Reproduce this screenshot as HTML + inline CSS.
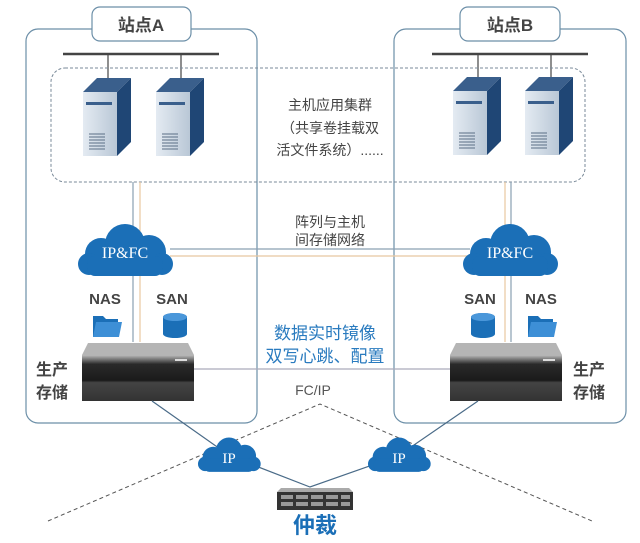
<!DOCTYPE html>
<html><head><meta charset="utf-8"><style>
html,body{margin:0;padding:0;background:#fff;}
svg{display:block;font-family:"Liberation Sans","Noto Sans CJK SC",sans-serif;}
</style></head><body>
<svg width="640" height="543" viewBox="0 0 640 543" xmlns="http://www.w3.org/2000/svg">
<defs>
<linearGradient id="srvF" x1="0" x2="1"><stop offset="0" stop-color="#e4ebf2"/><stop offset="1" stop-color="#b9c7d6"/></linearGradient>
<linearGradient id="arr" x1="0" y1="0" x2="0" y2="1"><stop offset="0" stop-color="#bcbcbc"/><stop offset="0.2" stop-color="#2a2a2a"/><stop offset="0.55" stop-color="#1a1a1a"/><stop offset="0.6" stop-color="#444"/><stop offset="1" stop-color="#333"/></linearGradient>
<g id="server">
<polygon points="0,14 14,0 48,0 34,14" fill="#3a5f8c"/>
<rect x="0" y="14" width="34" height="64" fill="url(#srvF)"/>
<polygon points="34,14 48,0 48,64 34,78" fill="#1f4675"/>
<rect x="3" y="24" width="26" height="3" fill="#3a5f8c"/>
<g stroke="#5a6e85" stroke-width="1"><line x1="6" y1="56" x2="22" y2="56"/><line x1="6" y1="59" x2="22" y2="59"/><line x1="6" y1="62" x2="22" y2="62"/><line x1="6" y1="65" x2="22" y2="65"/><line x1="6" y1="68" x2="22" y2="68"/><line x1="6" y1="71" x2="22" y2="71"/></g>
</g>
<g id="array">
<polygon points="0,12 6,0 106,0 112,12" fill="#b5b5b5"/>
<rect x="0" y="12" width="112" height="46" fill="url(#arr)"/>
<rect x="93" y="16" width="12" height="2" fill="#ddd"/>
</g>
<g id="cloud" fill="#1b6fb7">
<circle cx="-24" cy="2" r="16"/><circle cx="0" cy="-8" r="20"/><circle cx="24" cy="0" r="17"/>
<circle cx="-36" cy="12" r="11"/><circle cx="37" cy="12" r="11"/>
<rect x="-38" y="4" width="76" height="20" rx="8"/>
</g>
</defs>

<rect x="26" y="29" width="231" height="394" rx="12" fill="none" stroke="#6c8fa8" stroke-width="1.2"/>
<rect x="394" y="29" width="232" height="394" rx="12" fill="none" stroke="#6c8fa8" stroke-width="1.2"/>
<rect x="92" y="7" width="99" height="34" rx="8" fill="#fff" stroke="#6c8fa8" stroke-width="1.2"/>
<rect x="460" y="7" width="100" height="34" rx="8" fill="#fff" stroke="#6c8fa8" stroke-width="1.2"/>
<text x="141" y="31" font-size="17" font-weight="bold" fill="#444" text-anchor="middle">站点A</text>
<text x="510" y="31" font-size="17" font-weight="bold" fill="#444" text-anchor="middle">站点B</text>

<line x1="63" y1="54" x2="219" y2="54" stroke="#444" stroke-width="2.5"/>
<line x1="432" y1="54" x2="588" y2="54" stroke="#444" stroke-width="2.5"/>
<g stroke="#444" stroke-width="1.2">
<line x1="108" y1="54" x2="108" y2="80"/><line x1="181" y1="54" x2="181" y2="80"/>
<line x1="478" y1="54" x2="478" y2="80"/><line x1="551" y1="54" x2="551" y2="80"/>
</g>

<rect x="51" y="68" width="534" height="114" rx="14" fill="none" stroke="#7a8a99" stroke-width="1" stroke-dasharray="3,2"/>
<use href="#server" x="83" y="78"/><use href="#server" x="156" y="78"/>
<use href="#server" x="453" y="77"/><use href="#server" x="525" y="77"/>
<g font-size="14" fill="#444" text-anchor="middle">
<text x="330" y="110">主机应用集群</text>
<text x="330" y="133">（共享卷挂载双</text>
<text x="330" y="155">活文件系统）......</text>
<text x="330" y="227">阵列与主机</text>
<text x="330" y="245">间存储网络</text>
</g>

<g stroke-width="1.2">
<line x1="133" y1="182" x2="133" y2="342" stroke="#8aa0b2"/>
<line x1="140" y1="182" x2="140" y2="342" stroke="#e8c8a0"/>
<line x1="505" y1="182" x2="505" y2="342" stroke="#e8c8a0"/>
<line x1="511" y1="182" x2="511" y2="342" stroke="#8aa0b2"/>
<line x1="170" y1="249" x2="470" y2="249" stroke="#8aa0b2"/>
<line x1="170" y1="256" x2="470" y2="256" stroke="#e8c8a0"/>
<line x1="193" y1="369" x2="452" y2="369" stroke="#aab" />
</g>

<use href="#cloud" transform="translate(125,252) scale(1.0)"/>
<use href="#cloud" transform="translate(510,252) scale(1.0)"/>
<text x="125" y="258" font-size="16" fill="#fff" text-anchor="middle" font-family="Liberation Serif,serif">IP&amp;FC</text>
<text x="510" y="258" font-size="16" fill="#fff" text-anchor="middle" font-family="Liberation Serif,serif">IP&amp;FC</text>

<g font-size="15" font-weight="bold" fill="#444" text-anchor="middle">
<text x="105" y="304">NAS</text><text x="172" y="304">SAN</text>
<text x="480" y="304">SAN</text><text x="541" y="304">NAS</text>
</g>

<g fill="#1b6fb7">
<path d="M93,316 h10 l3,3 h12 v18 h-25z"/><path d="M96,322 h26 l-3,15 h-26z" fill="#3d8fd6"/>
<path d="M528,316 h10 l3,3 h12 v18 h-25z"/><path d="M531,322 h26 l-3,15 h-26z" fill="#3d8fd6"/>
<ellipse cx="175" cy="317" rx="12" ry="4"/><rect x="163" y="317" width="24" height="17"/><ellipse cx="175" cy="334" rx="12" ry="4"/>
<ellipse cx="483" cy="317" rx="12" ry="4"/><rect x="471" y="317" width="24" height="17"/><ellipse cx="483" cy="334" rx="12" ry="4"/>
</g>
<ellipse cx="175" cy="317" rx="12" ry="4" fill="#4a97da"/>
<ellipse cx="483" cy="317" rx="12" ry="4" fill="#4a97da"/>

<use href="#array" x="82" y="343"/>
<use href="#array" x="450" y="343"/>

<g font-size="17" fill="#2a7bbf" text-anchor="middle">
<text x="325" y="339">数据实时镜像</text>
<text x="325" y="362">双写心跳、配置</text>
</g>
<g font-size="16" font-weight="bold" fill="#444">
<text x="36" y="375">生产</text><text x="36" y="398">存储</text>
<text x="573" y="375">生产</text><text x="573" y="398">存储</text>
</g>
<text x="313" y="395" font-size="14" fill="#555" text-anchor="middle">FC/IP</text>

<polyline points="152,401 230,456 310,487 398,456 478,401" fill="none" stroke="#4a6b88" stroke-width="1.2"/>
<polyline points="48,521 320,404 592,521" fill="none" stroke="#555" stroke-width="1" stroke-dasharray="4,3"/>
<use href="#cloud" transform="translate(229,456) scale(0.66)"/>
<use href="#cloud" transform="translate(399,456) scale(0.66)"/>
<text x="229" y="463" font-size="15" fill="#fff" text-anchor="middle" font-family="Liberation Serif,serif">IP</text>
<text x="399" y="463" font-size="15" fill="#fff" text-anchor="middle" font-family="Liberation Serif,serif">IP</text>

<polygon points="277,492 281,488 349,488 353,492" fill="#aaa"/>
<rect x="277" y="492" width="76" height="18" fill="#333"/>
<g fill="#999"><rect x="281" y="495" width="12" height="4"/><rect x="296" y="495" width="12" height="4"/><rect x="311" y="495" width="12" height="4"/><rect x="326" y="495" width="12" height="4"/><rect x="341" y="495" width="9" height="4"/>
<rect x="281" y="502" width="12" height="4"/><rect x="296" y="502" width="12" height="4"/><rect x="311" y="502" width="12" height="4"/><rect x="326" y="502" width="12" height="4"/><rect x="341" y="502" width="9" height="4"/></g>
<text x="315" y="533" font-size="22" font-weight="bold" fill="#1b6fb7" text-anchor="middle">仲裁</text>
</svg>
</body></html>
